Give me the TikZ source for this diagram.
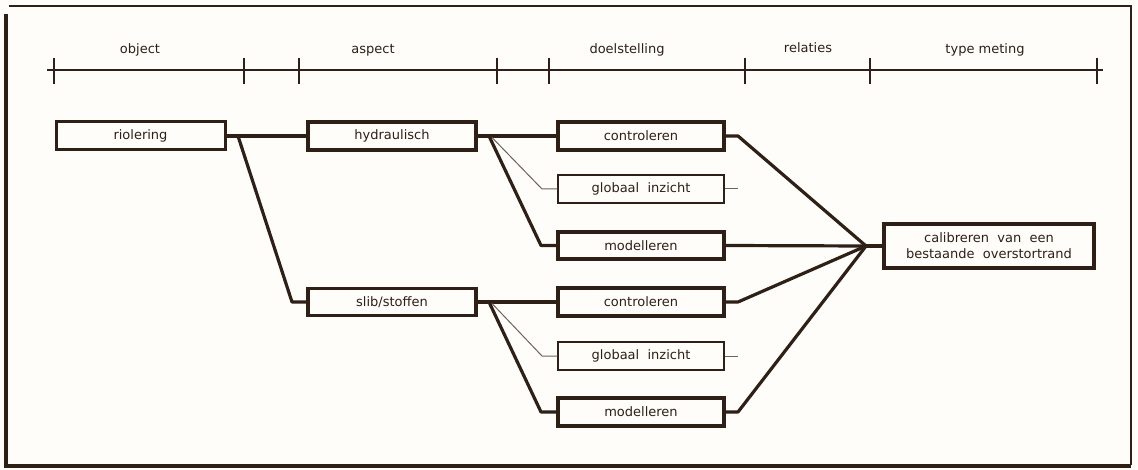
\documentclass[tikz,border=0pt]{standalone}
\usepackage{fontspec}
\setmainfont{DejaVu Sans}
\begin{document}
\begin{tikzpicture}[x=1pt,y=-1pt,
  thickbox/.style={draw=inkc,line width=3.2pt,fill=paper,minimum width=166pt,minimum height=27pt,inner sep=0pt,text=inkc,font=\fontsize{13}{16}\selectfont},
  thinbox/.style={thickbox,line width=1.1pt},
  conn/.style={draw=inkc,line width=3.2pt,line join=round},
  thinconn/.style={draw=inkc!70,line width=1pt,line join=round},
  head/.style={text=inkc,font=\fontsize{13}{16}\selectfont,inner sep=0pt},
  axis/.style={draw=inkc,line width=1.4pt}]
\definecolor{inkc}{HTML}{2E1F17}
\definecolor{paper}{HTML}{FEFDF9}
\useasboundingbox (0,0) rectangle (1138,470);
\fill[paper] (0,0) rectangle (1138,470);

% frame with heavy left and bottom edges
\draw[inkc,line width=2.2pt] (9,6) -- (1131,6) -- (1131,465);
\draw[inkc,line width=4.8pt] (6,14) -- (6,466) -- (1131,466);

% column axis with ticks
\draw[axis] (47,70) -- (1103,70);
\foreach \t in {54,244,299,497,549,745,870,1097}
  \draw[axis] (\t,58) -- (\t,84);
\node[head] (hObj) at (140,50) {object};
\node[head] (hAsp) at (373,50) {aspect};
\node[head] (hDoel) at (627,50) {doelstelling};
\node[head] (hRel) at (808,48) {relaties};
\node[head] (hType) at (985,50) {type meting};

% boxes
\node[thickbox,line width=3pt,minimum width=169pt,minimum height=28pt] (riol) at (140.5,136) {riolering};
\node[thickbox,minimum width=168pt,minimum height=28pt] (hydr) at (392,136) {hydraulisch};
\node[thickbox,minimum height=28pt] (ctrlA) at (641,136) {controleren};
\node[thinbox,minimum height=28pt] (globA) at (641,189) {globaal\ \ inzicht};
\node[thickbox] (modA) at (641,245.5) {modelleren};
\node[thickbox,minimum width=168pt] (slib) at (392,302) {slib/stoffen};
\node[thickbox,minimum height=28pt] (ctrlB) at (641,302) {controleren};
\node[thinbox,minimum height=28pt] (globB) at (641,356) {globaal\ \ inzicht};
\node[thickbox,minimum height=28pt] (modB) at (641,412) {modelleren};
\node[thickbox,minimum width=210pt,minimum height=44pt,align=center] (calib) at (989,246)
  {calibreren\ \ van\ \ een\\bestaande\ \ overstortrand};

% junction points
\coordinate (jR) at (238,136);
\coordinate (kR) at (292,302);
\coordinate (jH) at (489,136);
\coordinate (kH) at (541,245.5);
\coordinate (tH) at (492,137.5);
\coordinate (uH) at (542,189);
\coordinate (jS) at (489,302);
\coordinate (kS) at (541,412);
\coordinate (tS) at (492,303.5);
\coordinate (uS) at (542,356);
\coordinate (hub) at (866,246);
\coordinate (bA) at (738,136);
\coordinate (bB) at (738,302);
\coordinate (bC) at (738,412);
\coordinate (sA) at (738,189);
\coordinate (sB) at (738,356);

% object -> aspect
\draw[conn] (riol.east) -- (hydr.west);
\draw[conn] (jR) -- (kR) -- (slib.west);

% aspect -> doelstelling
\draw[conn] (hydr.east) -- (ctrlA.west);
\draw[conn] (jH) -- (kH) -- (modA.west);
\draw[thinconn] (tH) -- (uH) -- (globA.west);
\draw[conn] (slib.east) -- (ctrlB.west);
\draw[conn] (jS) -- (kS) -- (modB.west);
\draw[thinconn] (tS) -- (uS) -- (globB.west);

% doelstelling -> type meting
\draw[conn] (ctrlA.east) -- (bA) -- (hub);
\draw[conn] (modA.east) -- (hub);
\draw[conn] (ctrlB.east) -- (bB) -- (hub);
\draw[conn] (modB.east) -- (bC) -- (hub);
\draw[conn] (hub) -- (calib.west);
\draw[thinconn] (globA.east) -- (sA);
\draw[thinconn] (globB.east) -- (sB);
\end{tikzpicture}
\end{document}
